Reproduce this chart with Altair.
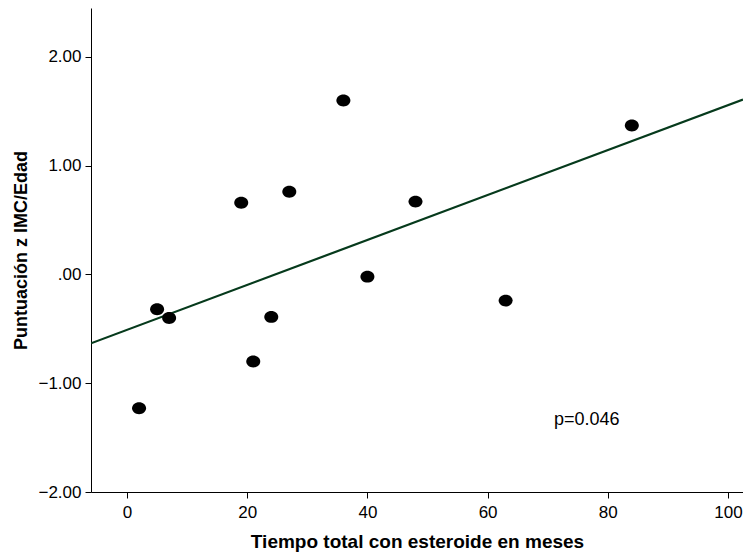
import altair as alt
import pandas as pd

months = [2, 5, 7, 19, 21, 24, 27, 36, 40, 48, 63, 84]
zscore = [-1.23, -0.32, -0.40, 0.66, -0.80, -0.39, 0.76, 1.60, -0.02, 0.67, -0.24, 1.37]
x_ticks = [0, 20, 40, 60, 80, 100]
y_ticks = [-2, -1, 0, 1, 2]
annotation = ["p=0.046"]
ann_x = [76.5]
ann_y = [-1.34]

df = pd.DataFrame({"x": months, "y": zscore})
ann = pd.DataFrame({"x": ann_x, "y": ann_y, "t": annotation})

X_DOM = [-6, 102.5]
Y_DOM = [-2.0, 2.45]

xscale = alt.Scale(domain=X_DOM, nice=False, zero=False)
yscale = alt.Scale(domain=Y_DOM, nice=False, zero=False)

xaxis = alt.Axis(title="Tiempo total con esteroide en meses", values=x_ticks, grid=False,
                 domainColor="black", tickColor="black", tickSize=6, labelFontSize=17,
                 labelColor="black", labelFont="Liberation Sans", labelPadding=6,
                 titleFont="Liberation Sans", titleFontSize=19, titleFontWeight="bold",
                 titleColor="black", titlePadding=12, format="d")
yaxis = alt.Axis(title="Puntuación z IMC/Edad", values=y_ticks, grid=False,
                 domainColor="black", tickColor="black", tickSize=6, labelFontSize=17,
                 labelColor="black", labelFont="Liberation Sans", labelPadding=4,
                 labelExpr="datum.value == 0 ? '.00' : format(datum.value, '.2f')",
                 titleFont="Liberation Sans", titleFontSize=18, titleFontWeight="bold",
                 titleColor="black", titlePadding=7)

ellipse = "M -1 0 A 1 0.85 0 1 1 1 0 A 1 0.85 0 1 1 -1 0 Z"

base = alt.Chart(df)

points = base.mark_point(filled=True, color="black", opacity=1, size=196, shape=ellipse).encode(
    x=alt.X("x:Q", scale=xscale, axis=xaxis),
    y=alt.Y("y:Q", scale=yscale, axis=yaxis),
)

line = base.transform_regression("x", "y", extent=X_DOM).mark_line(
    color="#063a1c", strokeWidth=2.2, clip=True
).encode(x=alt.X("x:Q", scale=xscale), y=alt.Y("y:Q", scale=yscale))

text = alt.Chart(ann).mark_text(fontSize=18, font="Liberation Sans", color="black").encode(
    x=alt.X("x:Q", scale=xscale), y=alt.Y("y:Q", scale=yscale), text="t:N"
)

chart = (line + points + text).properties(
    width=652, height=484,
    autosize=alt.AutoSizeParams(type="none"),
    padding={"left": 83, "top": 0, "right": 0, "bottom": 62},
).configure_view(stroke=None)

chart.save("out.html", embed_options={"renderer": "svg", "actions": False})
